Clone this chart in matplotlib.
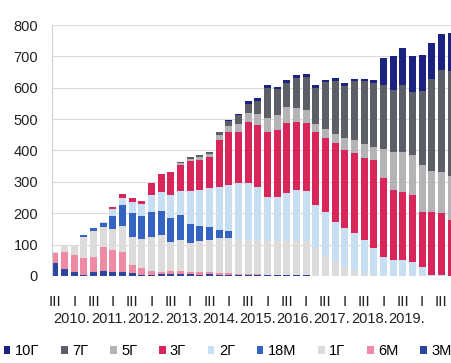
import numpy as np
import matplotlib
matplotlib.use("Agg")
import matplotlib.pyplot as plt

plt.rcParams["font.family"] = ["Liberation Sans", "DejaVu Sans"]

# quarters 2009 III ... 2019 IV
quarters = ["III", "IV", "I", "II"] * 10 + ["III", "IV"]
years = ["2010.", "2011.", "2012.", "2013.", "2014.", "2015.", "2016.", "2017.", "2018.", "2019."]

m3 = [40, 22, 13, 2, 14, 17, 14, 14, 8, 3, 3, 5, 6, 6, 6, 3, 6, 4, 4, 4, 4, 4,
      4, 4, 4, 3, 3, 0, 0, 0, 0, 0, 0, 0, 0, 0, 0, 0, 0, 0, 0, 0]
m6 = [33, 55, 54, 55, 47, 75, 69, 63, 27, 22, 12, 9, 9, 9, 8, 9, 6, 6, 4, 2, 2, 1,
      0, 0, 0, 0, 0, 0, 0, 0, 0, 0, 0, 0, 0, 0, 0, 0, 0, 0, 0, 0]
y1 = [2, 18, 33, 67, 82, 63, 67, 81, 90, 93, 110, 116, 93, 100, 91, 98, 103, 112,
      114, 112, 109, 110, 109, 109, 108, 109, 107, 90, 65, 45, 30, 20, 10, 3,
      0, 0, 0, 0, 0, 0, 0, 0]
m18 = [0, 0, 0, 6, 9, 15, 40, 67, 75, 74, 80, 78, 77, 80, 60, 50, 40, 26, 20,
       0, 0, 0, 0, 0, 0, 0, 0, 0, 0, 0, 0, 0, 0, 0, 0, 0, 0, 0, 0, 0, 0, 0]
y2 = [0, 0, 0, 0, 0, 2, 25, 25, 35, 36, 53, 60, 73, 75, 105, 115, 125, 137, 148,
      178, 181, 170, 139, 139, 152, 162, 160, 136, 139, 127, 123, 117, 105, 86,
      62, 51, 51, 45, 29, 3, 3, 0]
y3 = [0, 0, 0, 0, 0, 0, 5, 12, 13, 12, 38, 58, 74, 85, 95, 95, 100, 149, 170,
      164, 196, 197, 208, 214, 223, 218, 217, 234, 236, 252, 249, 255, 261, 281,
      250, 223, 217, 213, 175, 201, 197, 178]
y5 = [0, 0, 0, 0, 0, 0, 0, 0, 0, 0, 0, 0, 0, 4, 8, 8, 8, 14, 18, 25, 28, 33, 45,
      46, 51, 43, 41, 25, 28, 30, 38, 43, 44, 40, 93, 122, 127, 128, 151, 131,
      130, 142]
y7 = [0, 0, 0, 0, 0, 0, 0, 0, 0, 0, 0, 0, 0, 3, 7, 8, 7, 12, 17, 27, 28, 42, 94,
      84, 77, 96, 106, 114, 149, 169, 165, 185, 200, 205, 204, 197, 214, 202,
      235, 293, 327, 335]
y10 = [0, 0, 0, 0, 0, 0, 0, 0, 0, 0, 0, 0, 0, 0, 0, 0, 0, 0, 3, 5, 10, 10, 10,
       8, 10, 10, 10, 10, 8, 8, 10, 8, 8, 10, 86, 107, 118, 112, 115, 115, 115,
       120]

# bottom to top
series = [
    ("3M", m3, "#2b469e"),
    ("6M", m6, "#ef8aa4"),
    ("1Г", y1, "#dedcdb"),
    ("18M", m18, "#3463c2"),
    ("2Г", y2, "#c8def2"),
    ("3Г", y3, "#d8255a"),
    ("5Г", y5, "#b4b4b6"),
    ("7Г", y7, "#5c5f66"),
    ("10Г", y10, "#1b2282"),
]

fig = plt.figure(figsize=(4.51, 3.63), dpi=100)
ax = fig.add_axes([0.1153, 0.2397, 0.8847, 0.6914])

x = np.arange(len(quarters))
bottom = np.zeros(len(x))
handles = []
for name, vals, color in series:
    b = ax.bar(x, vals, width=0.72, bottom=bottom, color=color, label=name, zorder=2)
    bottom += np.array(vals)
    handles.append(b)

ax.set_xlim(-0.31, 41.0)
ax.set_ylim(0, 800)
ax.set_yticks(range(0, 801, 100))
ax.tick_params(axis="y", length=0, labelsize=10.5, pad=10, colors="#222222")
ax.grid(axis="y", color="#dcdcdc", lw=0.8, zorder=0)

qticks = x[::2]
ax.set_xticks(qticks)
ax.set_xticklabels([quarters[i] for i in qticks])
ax.tick_params(axis="x", length=0, labelsize=11, pad=14, colors="#222222")

for i, yr in enumerate(years):
    ax.text(1.72 + 3.85 * i, -0.17, yr, transform=ax.get_xaxis_transform(),
            ha="center", va="center", fontsize=10.5, color="#222222")

for s in ["top", "right", "bottom"]:
    ax.spines[s].set_visible(False)
ax.spines["left"].set_color("#d0d0d0")

fig.legend(handles[::-1], [s[0] for s in series][::-1], loc="center",
           bbox_to_anchor=(0.505, 1 - 351 / 363), ncol=9, frameon=False,
           handlelength=0.45, handleheight=0.45, handletextpad=0.3,
           columnspacing=1.5, fontsize=10.5, borderaxespad=0)

fig.savefig("out.png", dpi=100)
